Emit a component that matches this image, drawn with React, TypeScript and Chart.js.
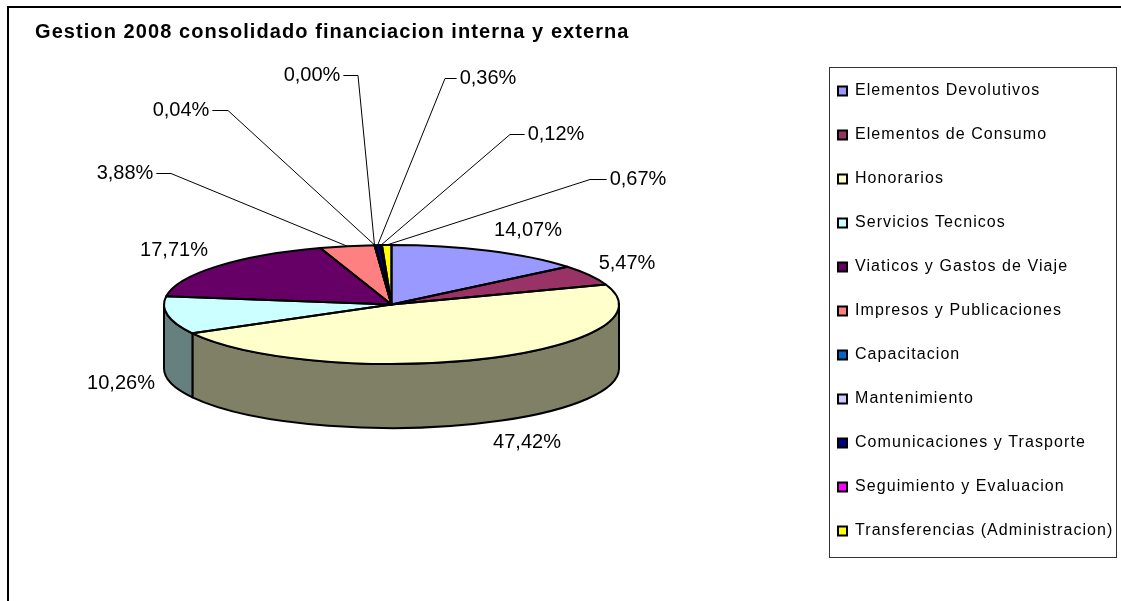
import React, { useEffect, useRef } from "react";
import { Chart, registerables } from "chart.js";

Chart.register(...registerables);

const titleText = "Gestion 2008 consolidado financiacion interna y externa";
const categories = [
  "Elementos Devolutivos",
  "Elementos de Consumo",
  "Honorarios",
  "Servicios Tecnicos",
  "Viaticos y Gastos de Viaje",
  "Impresos y Publicaciones",
  "Capacitacion",
  "Mantenimiento",
  "Comunicaciones y Trasporte",
  "Seguimiento y Evaluacion",
  "Transferencias (Administracion)",
];
const shares = [14.07, 5.47, 47.42, 10.26, 17.71, 3.88, 0.0, 0.04, 0.36, 0.12, 0.67];
const topColors = ["#9999FF", "#993366", "#FFFFCC", "#CCFFFF", "#660066", "#FF8080", "#0066CC", "#CCCCFF", "#000080", "#FF00FF", "#FFFF00"];
const wallColors = ["#4D4D80", "#4D1A33", "#808066", "#668080", "#330033", "#804040", "#003366", "#666680", "#000040", "#800080", "#808000"];

// Label placement: [text centre x, text centre y, leader elbow x or null]
const labelPlacement: [number, number, number | null][] = [
  [528, 230, null],
  [627, 263, null],
  [527, 442, null],
  [121, 383, null],
  [174, 250, null],
  [125, 173, 171],
  [312, 75, 358],
  [181, 110, 228],
  [488, 78, 445],
  [556, 134, 510],
  [638, 179, 590],
];

const PIE = { left: 164, right: 619, top: 77, bottom: 532, ry: 59.5, depth: 64, cy: 305 };
const LEGEND = { left: 829, top: 67, right: 1116, bottom: 557, pad: 28, boxX: 838, firstRow: 83 };

function pieGeom(chart: any) {
  const arc = chart.getDatasetMeta(0).data[0];
  const rx = arc.outerRadius;
  return { cx: arc.x, cy: arc.y, rx, ry: PIE.ry };
}

const pie3d = {
  id: "pie3d",
  afterLayout(chart: any) {
    chart.chartArea = {
      left: PIE.left,
      right: PIE.right,
      top: PIE.top,
      bottom: PIE.bottom,
      width: PIE.right - PIE.left,
      height: PIE.bottom - PIE.top,
    };
    chart.legend.left = LEGEND.boxX - LEGEND.pad;
    chart.legend.top = LEGEND.firstRow - LEGEND.pad;
    chart.titleBlock.left = 35;
  },
  beforeDraw(chart: any) {
    const { ctx, width, height } = chart;
    ctx.save();
    ctx.fillStyle = "#fff";
    ctx.fillRect(0, 0, width, height);
    ctx.strokeStyle = "#000";
    ctx.lineWidth = 2;
    ctx.beginPath();
    ctx.moveTo(8, height);
    ctx.lineTo(8, 7);
    ctx.lineTo(width, 7);
    ctx.stroke();
    ctx.lineWidth = 1;
    ctx.strokeStyle = "#333";
    ctx.strokeRect(LEGEND.left + 0.5, LEGEND.top + 0.5, LEGEND.right - LEGEND.left, LEGEND.bottom - LEGEND.top);
    ctx.restore();
    (ctx as any).letterSpacing = "1.07px";
  },
  beforeDatasetsDraw(chart: any) {
    const { ctx } = chart;
    const { cx, cy, rx, ry } = pieGeom(chart);
    const arcs = chart.getDatasetMeta(0).data;
    ctx.save();
    ctx.lineWidth = 2;
    ctx.strokeStyle = "#000";
    ctx.lineJoin = "round";
    arcs.forEach((arc: any, i: number) => {
      let a0 = arc.startAngle;
      let a1 = arc.endAngle;
      a0 = Math.max(a0, 0);
      a1 = Math.min(a1, Math.PI);
      if (a1 <= a0) return;
      ctx.beginPath();
      ctx.ellipse(cx, cy, rx, ry, 0, a0, a1, false);
      ctx.ellipse(cx, cy + PIE.depth, rx, ry, 0, a1, a0, true);
      ctx.closePath();
      ctx.fillStyle = wallColors[i];
      ctx.fill();
      ctx.stroke();
    });
    ctx.restore();
    ctx.save();
    ctx.translate(cx, cy);
    ctx.scale(1, ry / rx);
    ctx.translate(-cx, -cy);
  },
  afterDatasetsDraw(chart: any) {
    const { ctx } = chart;
    ctx.restore();
    const { cx, cy, rx, ry } = pieGeom(chart);
    ctx.save();
    ctx.lineWidth = 2;
    ctx.strokeStyle = "#000";
    ctx.lineJoin = "round";
    chart.getDatasetMeta(0).data.forEach((arc: any) => {
      ctx.beginPath();
      ctx.moveTo(cx, cy);
      ctx.ellipse(cx, cy, rx, ry, 0, arc.startAngle, arc.endAngle, false);
      ctx.closePath();
      ctx.stroke();
    });
    ctx.restore();
  },
  afterDraw(chart: any) {
    const { ctx } = chart;
    const { cx, cy, rx, ry } = pieGeom(chart);
    const arcs = chart.getDatasetMeta(0).data;
    ctx.save();
    (ctx as any).letterSpacing = "0px";
    ctx.font = "20px 'Liberation Sans'";
    ctx.textAlign = "center";
    ctx.textBaseline = "middle";
    ctx.fillStyle = "#000";
    ctx.strokeStyle = "#000";
    ctx.lineWidth = 1;
    shares.forEach((v, i) => {
      const [tx, ty, elbow] = labelPlacement[i];
      const text = v.toFixed(2).replace(".", ",") + "%";
      ctx.fillText(text, tx, ty);
      if (elbow !== null) {
        const mid = (arcs[i].startAngle + arcs[i].endAngle) / 2;
        const ex = cx + rx * Math.cos(mid);
        const ey = cy + ry * Math.sin(mid);
        const half = ctx.measureText(text).width / 2 + 3;
        const startX = elbow > tx ? tx + half : tx - half;
        ctx.beginPath();
        ctx.moveTo(startX, ty + 0.5);
        ctx.lineTo(elbow, ty + 0.5);
        ctx.lineTo(ex, ey);
        ctx.stroke();
      }
    });
    ctx.restore();
  },
};

export default function App() {
  const ref = useRef<HTMLCanvasElement | null>(null);
  useEffect(() => {
    const chart = new Chart(ref.current as HTMLCanvasElement, {
      type: "pie",
      data: {
        labels: categories,
        datasets: [
          {
            data: shares,
            backgroundColor: topColors,
            borderWidth: 0,
            clip: false,
          } as any,
        ],
      },
      options: {
        responsive: false,
        animation: false,
        events: [],
        layout: { padding: 0 },
        plugins: {
          title: {
            display: true,
            text: titleText,
            align: "start",
            color: "#000",
            font: { family: "'Liberation Sans'", size: 20, weight: "bold" },
            padding: { top: 20, bottom: 10 },
          },
          legend: {
            display: true,
            position: "right",
            align: "start",
            labels: {
              boxWidth: 9,
              boxHeight: 9,
              padding: 28,
              color: "#000",
              font: { family: "'Liberation Sans'", size: 16 },
              generateLabels(c: any) {
                const items = (Chart as any).overrides.doughnut.plugins.legend.labels.generateLabels(c);
                return items.map((it: any) => ({ ...it, strokeStyle: "#000", lineWidth: 2 }));
              },
            },
          },
          tooltip: { enabled: false },
        },
      } as any,
      plugins: [pie3d as any],
    });
    return () => chart.destroy();
  }, []);
  return (
    <canvas
      ref={ref}
      width={1121}
      height={601}
      style={{ display: "block", position: "absolute", left: 0, top: 0, width: 1121, height: 601 }}
    />
  );
}
